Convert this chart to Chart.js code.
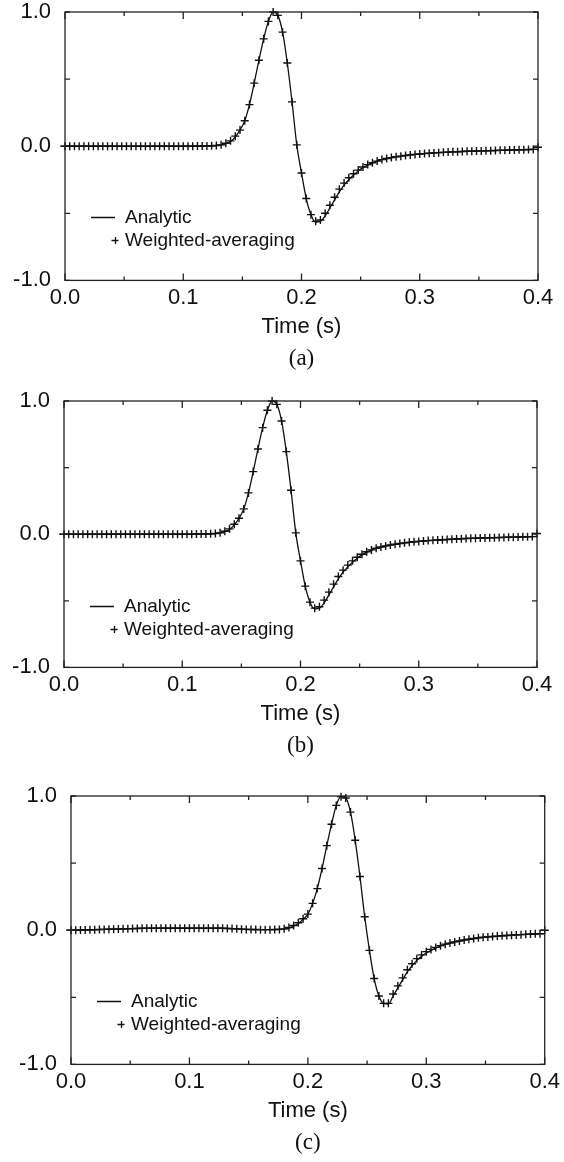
<!DOCTYPE html>
<html>
<head>
<meta charset="utf-8">
<script src="https://cdn.jsdelivr.net/npm/chart.js@4/dist/chart.umd.min.js"></script>
<style>
html, body { margin: 0; padding: 0; background: #fff; width: 564px; height: 1162px; overflow: hidden; }
canvas { position: absolute; left: 0; }
</style>
</head>
<body>
<canvas id="chartA" width="564" height="383" style="top:-4px"></canvas>
<canvas id="chartB" width="564" height="381" style="top:385px"></canvas>
<canvas id="chartC" width="564" height="383" style="top:780px"></canvas>
<script>
// sample times (s), shared by all three panels
var times = [
  0, 0.004, 0.008, 0.012, 0.016, 0.02, 0.024, 0.028, 0.032, 0.036,
  0.04, 0.044, 0.048, 0.052, 0.056, 0.06, 0.064, 0.068, 0.072, 0.076,
  0.08, 0.084, 0.088, 0.092, 0.096, 0.1, 0.104, 0.108, 0.112, 0.116,
  0.12, 0.124, 0.128, 0.132, 0.136, 0.14, 0.144, 0.148, 0.152, 0.156,
  0.16, 0.164, 0.168, 0.172, 0.176, 0.18, 0.184, 0.188, 0.192, 0.196,
  0.2, 0.204, 0.208, 0.212, 0.216, 0.22, 0.224, 0.228, 0.232, 0.236,
  0.24, 0.244, 0.248, 0.252, 0.256, 0.26, 0.264, 0.268, 0.272, 0.276,
  0.28, 0.284, 0.288, 0.292, 0.296, 0.3, 0.304, 0.308, 0.312, 0.316,
  0.32, 0.324, 0.328, 0.332, 0.336, 0.34, 0.344, 0.348, 0.352, 0.356,
  0.36, 0.364, 0.368, 0.372, 0.376, 0.38, 0.384, 0.388, 0.392, 0.396,
  0.4
];

// (a)
var analyticA = [
  0, 0, 0, 0, 0, 0, 0, 0, 0, 0,
  0, 0, 0, 0, 0, 0, 0, 0, 0, 0,
  0, 0, 0, 0, 0, 0, 0, 0, 0.001, 0.001,
  0.002, 0.003, 0.005, 0.01, 0.02, 0.035, 0.07, 0.12, 0.19, 0.31,
  0.47, 0.64, 0.8, 0.93, 1.0, 0.975, 0.85, 0.62, 0.33, 0.01,
  -0.2, -0.39, -0.51, -0.565, -0.56, -0.52, -0.46, -0.4, -0.34, -0.29,
  -0.25, -0.215, -0.185, -0.16, -0.14, -0.125, -0.112, -0.1, -0.092, -0.085,
  -0.079, -0.074, -0.069, -0.065, -0.061, -0.058, -0.055, -0.052, -0.05, -0.048,
  -0.046, -0.044, -0.042, -0.041, -0.039, -0.038, -0.037, -0.036, -0.035, -0.034,
  -0.033, -0.032, -0.031, -0.03, -0.029, -0.028, -0.027, -0.026, -0.025, -0.024,
  -0.023
];
var weightedA = [
  0, 0, 0, 0, 0, 0, 0, 0, 0, 0,
  0, 0, 0, 0, 0, 0, 0, 0, 0, 0,
  0, 0, 0, 0, 0, 0, 0, 0, 0.001, 0.001,
  0.002, 0.003, 0.005, 0.01, 0.022, 0.04, 0.075, 0.12, 0.19, 0.31,
  0.47, 0.64, 0.8, 0.93, 1.0, 0.975, 0.85, 0.62, 0.33, 0.01,
  -0.2, -0.39, -0.51, -0.56, -0.55, -0.5, -0.44, -0.38, -0.32, -0.275,
  -0.235, -0.205, -0.178, -0.155, -0.137, -0.123, -0.111, -0.1, -0.092, -0.085,
  -0.079, -0.074, -0.069, -0.065, -0.061, -0.058, -0.055, -0.052, -0.05, -0.048,
  -0.046, -0.044, -0.042, -0.041, -0.039, -0.038, -0.037, -0.036, -0.035, -0.034,
  -0.033, -0.032, -0.031, -0.03, -0.029, -0.028, -0.027, -0.026, -0.025, -0.024,
  -0.008
];

// (b)
var analyticB = [
  0, 0, 0, 0, 0, 0, 0, 0, 0, 0,
  0, 0, 0, 0, 0, 0, 0, 0, 0, 0,
  0, 0, 0, 0, 0, 0, 0, 0, 0.001, 0.001,
  0.002, 0.003, 0.005, 0.01, 0.02, 0.035, 0.07, 0.12, 0.19, 0.31,
  0.47, 0.64, 0.8, 0.93, 1.0, 0.975, 0.85, 0.62, 0.33, 0.01,
  -0.2, -0.39, -0.51, -0.56, -0.555, -0.515, -0.455, -0.395, -0.335, -0.285,
  -0.245, -0.21, -0.18, -0.155, -0.135, -0.12, -0.107, -0.096, -0.088, -0.081,
  -0.075, -0.07, -0.065, -0.061, -0.057, -0.054, -0.051, -0.048, -0.046, -0.044,
  -0.042, -0.04, -0.038, -0.036, -0.034, -0.032, -0.031, -0.03, -0.029, -0.028,
  -0.027, -0.026, -0.025, -0.024, -0.023, -0.022, -0.021, -0.02, -0.019, -0.018,
  -0.017
];
var weightedB = [
  0, 0, 0, 0, 0, 0, 0, 0, 0, 0,
  0, 0, 0, 0, 0, 0, 0, 0, 0, 0,
  0, 0, 0, 0, 0, 0, 0, 0, 0.001, 0.001,
  0.002, 0.003, 0.005, 0.01, 0.022, 0.04, 0.075, 0.12, 0.19, 0.31,
  0.47, 0.64, 0.8, 0.93, 1.0, 0.975, 0.85, 0.62, 0.33, 0.01,
  -0.2, -0.39, -0.51, -0.555, -0.545, -0.495, -0.435, -0.375, -0.318, -0.27,
  -0.232, -0.2, -0.173, -0.15, -0.132, -0.118, -0.106, -0.096, -0.088, -0.081,
  -0.075, -0.07, -0.065, -0.061, -0.057, -0.054, -0.051, -0.048, -0.046, -0.044,
  -0.042, -0.04, -0.038, -0.036, -0.034, -0.032, -0.031, -0.03, -0.029, -0.028,
  -0.027, -0.026, -0.025, -0.024, -0.023, -0.022, -0.021, -0.02, -0.019, -0.018,
  0.005
];

// (c)
var analyticC = [
  0, 0, 0.001, 0.002, 0.003, 0.004, 0.005, 0.006, 0.007, 0.008,
  0.009, 0.01, 0.011, 0.012, 0.013, 0.014, 0.014, 0.015, 0.015, 0.015,
  0.015, 0.015, 0.015, 0.015, 0.015, 0.015, 0.015, 0.015, 0.015, 0.015,
  0.015, 0.015, 0.014, 0.013, 0.012, 0.01, 0.008, 0.006, 0.005, 0.005,
  0.004, 0.004, 0.004, 0.005, 0.006, 0.008, 0.015, 0.03, 0.05, 0.08,
  0.12, 0.2, 0.31, 0.46, 0.63, 0.79, 0.93, 0.995, 0.985, 0.88,
  0.67, 0.4, 0.1, -0.15, -0.36, -0.49, -0.545, -0.55, -0.49, -0.43,
  -0.37, -0.31, -0.265, -0.225, -0.195, -0.17, -0.15, -0.133, -0.118, -0.106,
  -0.096, -0.087, -0.08, -0.073, -0.067, -0.062, -0.057, -0.053, -0.05, -0.047,
  -0.044, -0.041, -0.039, -0.037, -0.035, -0.033, -0.031, -0.029, -0.027, -0.026,
  -0.025
];
var weightedC = [
  0, 0, 0.001, 0.002, 0.003, 0.004, 0.005, 0.006, 0.007, 0.008,
  0.009, 0.01, 0.011, 0.012, 0.013, 0.014, 0.014, 0.015, 0.015, 0.015,
  0.015, 0.015, 0.015, 0.015, 0.015, 0.015, 0.015, 0.015, 0.015, 0.015,
  0.015, 0.015, 0.014, 0.013, 0.012, 0.01, 0.008, 0.006, 0.005, 0.005,
  0.004, 0.004, 0.004, 0.005, 0.006, 0.01, 0.02, 0.035, 0.055, 0.085,
  0.12, 0.2, 0.31, 0.46, 0.63, 0.79, 0.93, 0.995, 0.985, 0.88,
  0.67, 0.4, 0.1, -0.15, -0.36, -0.49, -0.545, -0.545, -0.475, -0.415,
  -0.355, -0.295, -0.25, -0.212, -0.184, -0.16, -0.143, -0.128, -0.115, -0.104,
  -0.096, -0.087, -0.08, -0.073, -0.067, -0.062, -0.057, -0.053, -0.05, -0.047,
  -0.044, -0.041, -0.039, -0.037, -0.035, -0.033, -0.031, -0.029, -0.027, -0.026,
  0.0
];

var seriesNames = ['Analytic', 'Weighted-averaging'];
var captions = ['(a)', '(b)', '(c)'];

Chart.defaults.font.family = '"Liberation Sans", Arial, Helvetica, sans-serif';
Chart.defaults.color = '#111';

function isTenth(v) {
  return Math.abs(v * 10 - Math.round(v * 10)) < 1e-6;
}

function pts(vals) {
  return times.map(function (t, i) { return { x: t, y: vals[i] }; });
}

// box frame, inward ticks on all four sides, and the in-plot legend
var frame = {
  id: 'frame',
  afterDraw: function (chart) {
    var ctx = chart.ctx, a = chart.chartArea;
    var xs = chart.scales.x, ys = chart.scales.y;
    ctx.save();
    ctx.strokeStyle = '#222';
    ctx.lineWidth = 1.3;
    ctx.strokeRect(a.left, a.top, a.right - a.left, a.bottom - a.top);
    ctx.beginPath();
    xs.ticks.forEach(function (t) {
      var px = xs.getPixelForValue(t.value);
      var len = isTenth(t.value) ? 7 : 4;
      ctx.moveTo(px, a.bottom); ctx.lineTo(px, a.bottom - len);
      ctx.moveTo(px, a.top); ctx.lineTo(px, a.top + len);
    });
    ys.ticks.forEach(function (t) {
      var py = ys.getPixelForValue(t.value);
      var out = t.value === 0 ? 5 : 0;
      ctx.moveTo(a.left - out, py); ctx.lineTo(a.left + 5, py);
      ctx.moveTo(a.right, py); ctx.lineTo(a.right - 5, py);
    });
    ctx.stroke();

    // legend
    var ds = chart.data.datasets;
    var lx = Math.round(a.left + 26), y1 = Math.round(a.top + 205) + 0.5, y2 = Math.round(a.top + 228) + 0.5;
    ctx.strokeStyle = '#111';
    ctx.lineWidth = 1.3;
    ctx.beginPath();
    ctx.moveTo(lx, y1); ctx.lineTo(lx + 24, y1);
    ctx.moveTo(lx + 20.5, y2); ctx.lineTo(lx + 27.5, y2);
    ctx.moveTo(lx + 24.5, y2 - 3.5); ctx.lineTo(lx + 24.5, y2 + 3.5);
    ctx.stroke();
    ctx.fillStyle = '#111';
    ctx.font = '19px "Liberation Sans", Arial, sans-serif';
    ctx.textAlign = 'left';
    ctx.textBaseline = 'middle';
    ctx.fillText(ds[0].label, a.left + 60, y1);
    ctx.fillText(ds[1].label, a.left + 60, y2);
    ctx.restore();
  }
};

function makePanel(id, analytic, weighted, caption, left, right) {
  return new Chart(document.getElementById(id), {
    type: 'line',
    data: {
      datasets: [
        {
          label: seriesNames[0],
          data: pts(analytic),
          borderColor: '#111',
          borderWidth: 1.3,
          pointRadius: 0,
          fill: false,
          cubicInterpolationMode: 'monotone'
        },
        {
          label: seriesNames[1],
          data: pts(weighted),
          showLine: false,
          pointStyle: 'cross',
          pointRadius: 4,
          pointBorderWidth: 1.4,
          pointBorderColor: '#111',
          borderColor: '#111',
          clip: false
        }
      ]
    },
    options: {
      responsive: false,
      animation: false,
      devicePixelRatio: 1,
      layout: { padding: { top: 16, left: 0, right: 564 - right, bottom: 0 } },
      plugins: {
        legend: { display: false },
        tooltip: { enabled: false },
        title: {
          display: true,
          text: caption,
          position: 'bottom',
          fullSize: false,
          color: '#111',
          font: { family: '"Liberation Serif", "Times New Roman", serif', size: 23, weight: 'normal' },
          padding: { top: 0, bottom: 6 }
        }
      },
      scales: {
        x: {
          type: 'linear',
          min: 0,
          max: 0.4,
          grid: { display: false, drawTicks: false },
          border: { display: false },
          ticks: {
            stepSize: 0.05,
            autoSkip: false,
            maxRotation: 0,
            padding: 4,
            color: '#111',
            font: { size: 22 },
            callback: function (v) { return isTenth(v) ? v.toFixed(1) : ''; }
          },
          title: {
            display: true,
            text: 'Time (s)',
            color: '#111',
            font: { size: 22 },
            padding: { top: 0, bottom: 5 }
          },
          afterFit: function (s) { s.height = 65; }
        },
        y: {
          min: -1,
          max: 1,
          grid: { display: false, drawTicks: false },
          border: { display: false },
          ticks: {
            stepSize: 0.5,
            padding: 14,
            color: '#111',
            font: { size: 22 },
            callback: function (v) { return Number.isInteger(v) ? v.toFixed(1) : ''; }
          },
          afterFit: function (s) {
            s.width = left;
            s.paddingTop = 0;
            s.paddingBottom = 0;
          }
        }
      }
    },
    plugins: [frame]
  });
}

makePanel('chartA', analyticA, weightedA, captions[0], 65, 538);
makePanel('chartB', analyticB, weightedB, captions[1], 64, 537);
makePanel('chartC', analyticC, weightedC, captions[2], 71, 545);
</script>
</body>
</html>
